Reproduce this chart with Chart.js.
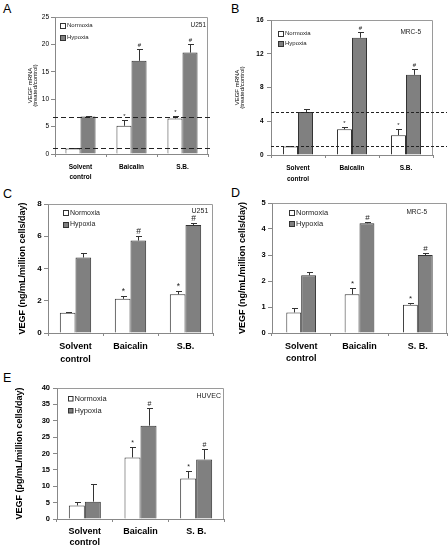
<!DOCTYPE html>
<html>
<head>
<meta charset="utf-8">
<script src="https://cdn.jsdelivr.net/npm/chart.js@4"></script>
<style>
body { margin: 0; background: #fff; width: 448px; height: 547px; position: relative; overflow: hidden; font-family: "Liberation Sans", Arial, sans-serif; }
canvas { position: absolute; }
.letter { position: absolute; font-size: 12.5px; line-height: 12.5px; color: #000; }
</style>
</head>
<body>
<div class="letter" style="left:3px;top:2.5px">A</div>
<div class="letter" style="left:231px;top:2.5px">B</div>
<div class="letter" style="left:3px;top:187.5px">C</div>
<div class="letter" style="left:231px;top:186.5px">D</div>
<div class="letter" style="left:3px;top:371.5px">E</div>

<canvas id="chartA" width="224" height="186" style="left:0;top:0;width:224px;height:186px"></canvas>
<canvas id="chartB" width="224" height="182" style="left:224px;top:0;width:224px;height:182px"></canvas>
<canvas id="chartC" width="224" height="180" style="left:0;top:186px;width:224px;height:180px"></canvas>
<canvas id="chartD" width="224" height="180" style="left:224px;top:186px;width:224px;height:180px"></canvas>
<canvas id="chartE" width="240" height="181" style="left:0;top:366px;width:240px;height:181px"></canvas>

<script>
// categories / series
const categories = [['Solvent', 'control'], 'Baicalin', 'S.B.'];
const categoriesSp = [['Solvent', 'control'], 'Baicalin', 'S. B.'];
const seriesNames = ['Normoxia', 'Hypoxia'];
const starMarks = ['', '*', '*'];
const hashMarks = ['', '#', '#'];

// A - U251, VEGF mRNA
const normA = [1.0, 5.15, 6.5];
const normErrA = [0.03, 1.1, 0.35];
const hypA = [6.85, 17.0, 18.5];
const hypErrA = [0.1, 2.2, 1.6];
const refA = [6.8, 1.1];
const ticksA = [0, 25, 5];

// B - MRC-5, VEGF mRNA
const normB = [1.0, 3.05, 2.35];
const normErrB = [0.08, 0.25, 0.7];
const hypB = [5.1, 13.9, 9.5];
const hypErrB = [0.3, 0.7, 0.65];
const refB = [5.13, 1.1];
const ticksB = [0, 16, 4];

// C - U251, VEGF protein
const normC = [1.25, 2.12, 2.4];
const normErrC = [0.03, 0.15, 0.2];
const hypC = [4.68, 5.73, 6.7];
const hypErrC = [0.28, 0.28, 0.15];
const ticksC = [0, 8, 2];

// D - MRC-5, VEGF protein
const normD = [0.79, 1.49, 1.09];
const normErrD = [0.16, 0.26, 0.08];
const hypD = [2.22, 4.22, 3.0];
const hypErrD = [0.14, 0.06, 0.07];
const ticksD = [0, 5, 1];

// E - HUVEC, VEGF protein
const normE = [4.15, 18.8, 12.4];
const normErrE = [0.95, 3.2, 2.2];
const hypE = [5.3, 28.5, 18.2];
const hypErrE = [5.3, 5.4, 3.3];
const ticksE = [0, 40, 5];

const FONT = '"Liberation Sans", Arial, sans-serif';

// error bars, */# marks, dashed reference lines, legend and cell line label
const extras = {
  id: 'extras',
  afterDatasetsDraw(chart, args, o) {
    const { ctx, chartArea: a, scales: { y } } = chart;
    ctx.save();
    ctx.lineWidth = 1;
    // plot frame
    ctx.strokeStyle = '#9a9a9a';
    ctx.beginPath();
    ctx.moveTo(Math.round(a.left) + 0.5, Math.round(a.top) + 0.5);
    ctx.lineTo(Math.round(a.right) - 0.5, Math.round(a.top) + 0.5);
    ctx.lineTo(Math.round(a.right) - 0.5, Math.round(a.bottom));
    ctx.stroke();

    chart.data.datasets.forEach((ds, i) => {
      chart.getDatasetMeta(i).data.forEach((bar, j) => {
        const yt = Math.round(y.getPixelForValue(ds.data[j] + ds.err[j])) + 0.5;
        const x = Math.round(bar.x) + 0.5;
        ctx.strokeStyle = '#333';
        ctx.beginPath();
        ctx.moveTo(x, bar.y);
        ctx.lineTo(x, yt);
        ctx.moveTo(x - o.cap, yt);
        ctx.lineTo(x + o.cap + 1, yt);
        ctx.stroke();
        if (ds.marks[j]) {
          ctx.font = o.markFont;
          ctx.fillStyle = '#222';
          ctx.textAlign = 'center';
          ctx.textBaseline = 'alphabetic';
          ctx.fillText(ds.marks[j], x, yt - o.markGap);
        }
      });
    });

    (o.refs || []).forEach(v => {
      const yy = Math.round(y.getPixelForValue(v)) + 0.5;
      ctx.strokeStyle = '#222';
      ctx.setLineDash(o.dash);
      ctx.beginPath();
      ctx.moveTo(a.left - o.refExt[0], yy);
      ctx.lineTo(a.right + o.refExt[1], yy);
      ctx.stroke();
      ctx.setLineDash([]);
    });

    // legend
    ctx.font = o.legendFont;
    ctx.textAlign = 'left';
    ctx.textBaseline = 'middle';
    chart.data.datasets.forEach((ds, i) => {
      const bx = Math.round(a.left + o.legend.dx) + 0.5;
      const by = Math.round(a.top + o.legend.dy[i] - o.legend.box / 2) + 0.5;
      ctx.fillStyle = ds.backgroundColor;
      ctx.fillRect(bx, by, o.legend.box, o.legend.box);
      ctx.strokeStyle = '#333';
      ctx.strokeRect(bx, by, o.legend.box, o.legend.box);
      ctx.fillStyle = '#222';
      ctx.fillText(ds.label, bx + o.legend.box + 1.5, a.top + o.legend.dy[i] + 0.5);
    });

    ctx.font = o.cellFont;
    ctx.textAlign = 'right';
    ctx.fillStyle = '#222';
    ctx.fillText(o.cell, a.right + o.cellPos[0], a.top + o.cellPos[1]);
    ctx.restore();
  }
};

function makePanel(id, p) {
  const ctx = document.getElementById(id).getContext('2d');
  return new Chart(ctx, {
    type: 'bar',
    data: {
      labels: p.labels,
      datasets: [
        { label: seriesNames[0], data: p.norm, err: p.normErr, marks: starMarks,
          backgroundColor: '#ffffff', borderColor: '#333', borderWidth: 1 },
        { label: seriesNames[1], data: p.hyp, err: p.hypErr, marks: hashMarks,
          backgroundColor: '#808080', borderColor: '#333', borderWidth: 1 }
      ]
    },
    options: {
      responsive: false,
      animation: false,
      devicePixelRatio: 1,
      layout: { padding: { top: p.top, right: p.right, left: 0, bottom: 0 } },
      datasets: { bar: { barPercentage: 1, categoryPercentage: p.cat } },
      plugins: {
        legend: { display: false },
        tooltip: { enabled: false },
        extras: p.extras
      },
      scales: {
        x: {
          grid: { drawOnChartArea: false, tickLength: 3, color: '#888' },
          border: { color: '#888' },
          ticks: { color: '#000', padding: p.xPad,
                   font: { family: FONT, size: p.xFont, weight: 'bold', lineHeight: p.xLh + 'px' } },
          afterFit: s => { s.height = p.xh; }
        },
        y: {
          min: p.ticks[0], max: p.ticks[1],
          grid: { drawOnChartArea: false, tickLength: 4, color: '#888' },
          border: { color: '#888' },
          ticks: { stepSize: p.ticks[2], color: '#000', padding: p.yPad,
                   font: { family: FONT, size: p.yFont, weight: p.yWeight } },
          title: { display: true, text: p.title, color: '#000', padding: { top: p.titlePad, bottom: 0 },
                   font: { family: FONT, size: p.titleFont, weight: p.titleWeight, lineHeight: p.titleLh + 'px' } },
          afterFit: s => { s.width = p.yw; }
        }
      }
    },
    plugins: [extras]
  });
}

makePanel('chartA', {
  labels: categories, norm: normA, normErr: normErrA, hyp: hypA, hypErr: hypErrA, ticks: ticksA,
  top: 17, right: 16, yw: 55, xh: 32, cat: 0.59,
  xFont: 6.5, xLh: 10, xPad: 5, yFont: 6.5, yWeight: 'normal', yPad: 2,
  title: ['VEGF mRNA', '(treated/control)'], titleFont: 6, titleWeight: 'normal', titleLh: 5.4, titlePad: 27.4,
  extras: { cap: 2.5, markFont: '6px ' + FONT, markGap: 3, refs: refA, dash: [5, 3], refExt: [2, 2],
            legendFont: '6px ' + FONT, legend: { dx: 5, dy: [8, 20], box: 5 },
            cell: 'U251', cellFont: '6.5px ' + FONT, cellPos: [-2, 8.5] }
});

makePanel('chartB', {
  labels: categories, norm: normB, normErr: normErrB, hyp: hypB, hypErr: hypErrB, ticks: ticksB,
  top: 20, right: 15, yw: 47, xh: 27, cat: 0.556,
  xFont: 6.5, xLh: 10.7, xPad: 5, yFont: 6.5, yWeight: 'bold', yPad: 3.5,
  title: ['VEGF mRNA', '(treated/control)'], titleFont: 6, titleWeight: 'normal', titleLh: 5, titlePad: 10.4,
  extras: { cap: 2.5, markFont: '6px ' + FONT, markGap: 3, refs: refB, dash: [3, 2], refExt: [0, 14],
            legendFont: '6px ' + FONT, legend: { dx: 7, dy: [13, 23], box: 5 },
            cell: 'MRC-5', cellFont: '6.5px ' + FONT, cellPos: [-12, 12.5] }
});

makePanel('chartC', {
  labels: categories, norm: normC, normErr: normErrC, hyp: hypC, hypErr: hypErrC, ticks: ticksC,
  top: 18, right: 11, yw: 48, xh: 33, cat: 0.57,
  xFont: 9, xLh: 12.5, xPad: 4.5, yFont: 8, yWeight: 'bold', yPad: 2.3,
  title: 'VEGF (ng/mL/million cells/day)', titleFont: 9, titleWeight: 'bold', titleLh: 10.8, titlePad: 17,
  extras: { cap: 2.5, markFont: '8.5px ' + FONT, markGap: 2.5, refs: [], dash: [], refExt: [0, 0],
            legendFont: '7px ' + FONT, legend: { dx: 14.7, dy: [8.7, 20], box: 5 },
            cell: 'U251', cellFont: '7px ' + FONT, cellPos: [-4.7, 7] }
});

makePanel('chartD', {
  labels: categoriesSp, norm: normD, normErr: normErrD, hyp: hypD, hypErr: hypErrD, ticks: ticksD,
  top: 17, right: 1, yw: 48, xh: 33, cat: 0.51,
  xFont: 9, xLh: 11.6, xPad: 4.9, yFont: 7.5, yWeight: 'bold', yPad: 2.3,
  title: 'VEGF (ng/mL/million cells/day)', titleFont: 9, titleWeight: 'bold', titleLh: 10.8, titlePad: 12.9,
  extras: { cap: 2.5, markFont: '8px ' + FONT, markGap: 3, refs: [], dash: [], refExt: [0, 0],
            legendFont: '7.5px ' + FONT, legend: { dx: 17, dy: [9, 20.7], box: 5 },
            cell: 'MRC-5', cellFont: '6.5px ' + FONT, cellPos: [-20, 9.5] }
});

makePanel('chartE', {
  labels: categoriesSp, norm: normE, normErr: normErrE, hyp: hypE, hypErr: hypErrE, ticks: ticksE,
  top: 22, right: 16, yw: 57, xh: 28, cat: 0.575,
  xFont: 9, xLh: 11.3, xPad: 4, yFont: 7.5, yWeight: 'bold', yPad: 3,
  title: 'VEGF (pg/mL/million cells/day)', titleFont: 9, titleWeight: 'bold', titleLh: 10.8, titlePad: 14.6,
  extras: { cap: 2.5, markFont: '7px ' + FONT, markGap: 3, refs: [], dash: [], refExt: [0, 0],
            legendFont: '7.5px ' + FONT, legend: { dx: 11, dy: [10.6, 22.3], box: 4.5 },
            cell: 'HUVEC', cellFont: '7px ' + FONT, cellPos: [-3, 8.5] }
});
</script>
</body>
</html>
